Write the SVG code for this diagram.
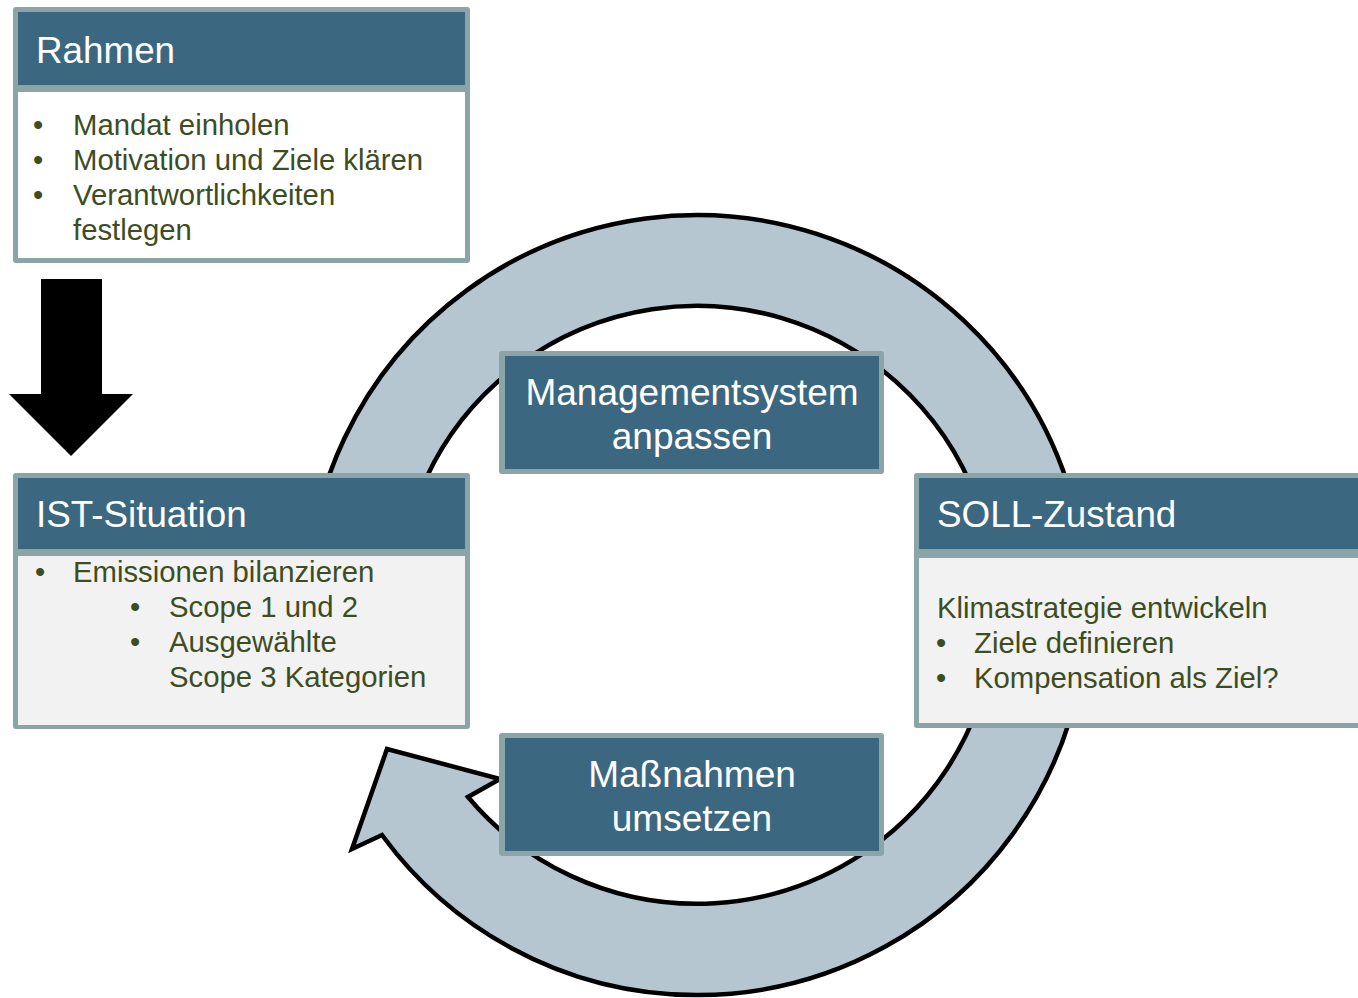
<svg xmlns="http://www.w3.org/2000/svg" width="1358" height="998" viewBox="0 0 1358 998">
<style>
.frame{fill:#8aa4a7}
.head{fill:#3c6780}
.title{font-family:"Liberation Sans",Arial,sans-serif;font-size:36.8px;fill:#ffffff}
.ctitle{font-family:"Liberation Sans",Arial,sans-serif;font-size:37px;fill:#ffffff;text-anchor:middle}
.body{font-family:"Liberation Sans",Arial,sans-serif;font-size:29.3px;fill:#3d4d1f}
</style>
<rect x="0" y="0" width="1358" height="998" fill="#ffffff"/>
<g id="connectors">
<path id="cycle-arrow" d="M307,606 A390,390 0 1 1 382,835 L352,849 L387,749 L500,779 L468,797 A299,299 0 1 0 398,606 Z" fill="#b5c6d1" stroke="#000000" stroke-width="4.5" stroke-linejoin="miter"/>
<polygon id="down-arrow" points="41,279 102,279 102,394 133,394 71,456 9,394 41,394" fill="#000000"/>
</g>
<g id="rahmen">
<rect class="frame" x="13" y="7" width="457" height="256" rx="3"/>
<rect class="head" x="18" y="12" width="447" height="73"/>
<rect x="18" y="92" width="447" height="166" fill="#ffffff"/>
<text class="title" x="36" y="63">Rahmen</text>
<text class="body" x="33" y="135">•</text>
<text class="body" x="73" y="135">Mandat einholen</text>
<text class="body" x="33" y="170">•</text>
<text class="body" x="73" y="170">Motivation und Ziele klären</text>
<text class="body" x="33" y="205">•</text>
<text class="body" x="73" y="205">Verantwortlichkeiten</text>
<text class="body" x="73" y="240">festlegen</text>
</g>
<g id="ist-situation">
<rect class="frame" x="13" y="473" width="457" height="256" rx="3"/>
<rect class="head" x="18" y="478" width="447" height="71"/>
<rect x="18" y="556" width="447" height="169" fill="#f2f2f2"/>
<text class="title" x="36" y="527">IST-Situation</text>
<text class="body" x="35" y="582">•</text>
<text class="body" x="73" y="582">Emissionen bilanzieren</text>
<text class="body" x="130" y="617">•</text>
<text class="body" x="169" y="617">Scope 1 und 2</text>
<text class="body" x="130" y="652">•</text>
<text class="body" x="169" y="652">Ausgewählte</text>
<text class="body" x="169" y="687">Scope 3 Kategorien</text>
</g>
<g id="soll-zustand">
<rect class="frame" x="914" y="473" width="470" height="255" rx="3"/>
<rect class="head" x="919" y="478" width="460" height="71"/>
<rect x="919" y="558" width="460" height="165" fill="#f2f2f2"/>
<text class="title" x="937" y="527">SOLL-Zustand</text>
<text class="body" x="937" y="618">Klimastrategie entwickeln</text>
<text class="body" x="936" y="653">•</text>
<text class="body" x="974" y="653">Ziele definieren</text>
<text class="body" x="936" y="688">•</text>
<text class="body" x="974" y="688">Kompensation als Ziel?</text>
</g>
<g id="managementsystem">
<rect class="frame" x="499" y="351" width="385" height="123" rx="3"/>
<rect class="head" x="505" y="356" width="374" height="113"/>
<text class="ctitle" x="692" y="405">Managementsystem</text>
<text class="ctitle" x="692" y="449">anpassen</text>
</g>
<g id="massnahmen">
<rect class="frame" x="499" y="733" width="385" height="123" rx="3"/>
<rect class="head" x="505" y="738" width="374" height="113"/>
<text class="ctitle" x="692" y="787">Maßnahmen</text>
<text class="ctitle" x="692" y="831">umsetzen</text>
</g>
</svg>
